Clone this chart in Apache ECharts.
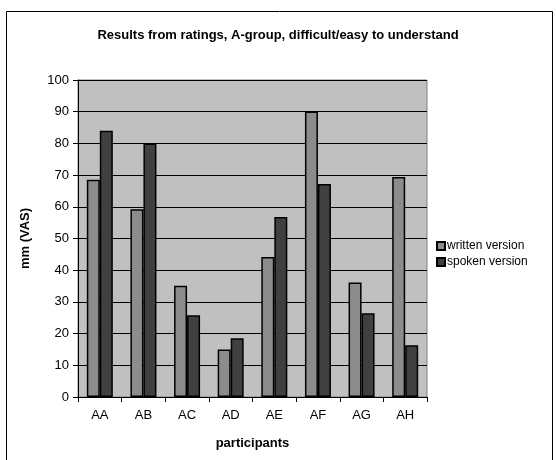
<!DOCTYPE html>
<html>
<head>
<meta charset="utf-8">
<script src="https://cdn.jsdelivr.net/npm/echarts@6/dist/echarts.min.js"></script>
<style>
  html, body { margin: 0; padding: 0; background: #fff; }
  #chart { width: 556px; height: 460px; }
</style>
</head>
<body>
<div id="chart"></div>
<script>
// Ratings per participant, in mm on the visual analogue scale
const participants = ['AA', 'AB', 'AC', 'AD', 'AE', 'AF', 'AG', 'AH'];
const writtenVersion = [68.5, 59.2, 35.1, 15.0, 44.2, 90.1, 36.1, 69.4];
const spokenVersion = [84.0, 80.0, 25.8, 18.5, 56.8, 67.2, 26.4, 16.3];
const seriesNames = ['written version', 'spoken version'];

const FONT = 'Liberation Sans, Arial, sans-serif';
const chart = echarts.init(document.getElementById('chart'), null, { renderer: 'canvas' });

chart.setOption({
  backgroundColor: '#ffffff',
  animation: false,
  textStyle: { fontFamily: FONT, color: '#000' },
  graphic: [{
    type: 'rect',
    shape: { x: 6.5, y: 11.5, width: 546, height: 460 },
    style: { fill: 'none', stroke: '#000', lineWidth: 1 },
    silent: true,
    z: -10
  }],
  title: {
    text: 'Results from ratings, A-group, difficult/easy to understand',
    left: 'center',
    top: 24,
    textStyle: { fontFamily: FONT, fontSize: 13, fontWeight: 'bold', color: '#000' }
  },
  legend: {
    data: seriesNames,
    orient: 'vertical',
    left: 431,
    top: 235,
    itemWidth: 8,
    itemHeight: 8,
    itemGap: 4,
    icon: 'rect',
    textStyle: { fontFamily: FONT, fontSize: 12, color: '#000', padding: [0, 0, 0, -3] }
  },
  grid: {
    left: 78,
    right: 129,
    top: 80,
    bottom: 63,
    show: true,
    backgroundColor: '#c0c0c0',
    borderColor: '#808080',
    borderWidth: 1
  },
  xAxis: {
    type: 'category',
    data: participants,
    name: 'participants',
    nameLocation: 'middle',
    nameGap: 40,
    nameTextStyle: { fontFamily: FONT, fontSize: 13, fontWeight: 'bold', color: '#000' },
    axisLine: { lineStyle: { color: '#000', width: 1 } },
    axisTick: { show: true, length: 5, lineStyle: { color: '#000' } },
    axisLabel: { fontFamily: FONT, fontSize: 13, color: '#000', margin: 12 }
  },
  yAxis: {
    type: 'value',
    min: 0,
    max: 100,
    interval: 10,
    name: 'mm (VAS)',
    nameLocation: 'middle',
    nameGap: 46,
    nameRotate: 90,
    nameTextStyle: { fontFamily: FONT, fontSize: 13, fontWeight: 'bold', color: '#000' },
    axisLine: { show: true, lineStyle: { color: '#000', width: 1 } },
    axisTick: { show: true, length: 5, lineStyle: { color: '#000' } },
    axisLabel: { fontFamily: FONT, fontSize: 13, color: '#000', margin: 9 },
    splitLine: { show: true, lineStyle: { color: '#000', width: 1 } }
  },
  series: [
    {
      name: seriesNames[0],
      type: 'bar',
      data: writtenVersion,
      barWidth: 13,
      barGap: '0%',
      itemStyle: { color: '#8c8c8c', borderColor: '#000', borderWidth: 1.5 }
    },
    {
      name: seriesNames[1],
      type: 'bar',
      data: spokenVersion,
      barWidth: 13,
      barGap: '0%',
      itemStyle: { color: '#404040', borderColor: '#000', borderWidth: 1.5 }
    }
  ]
});
</script>
</body>
</html>
